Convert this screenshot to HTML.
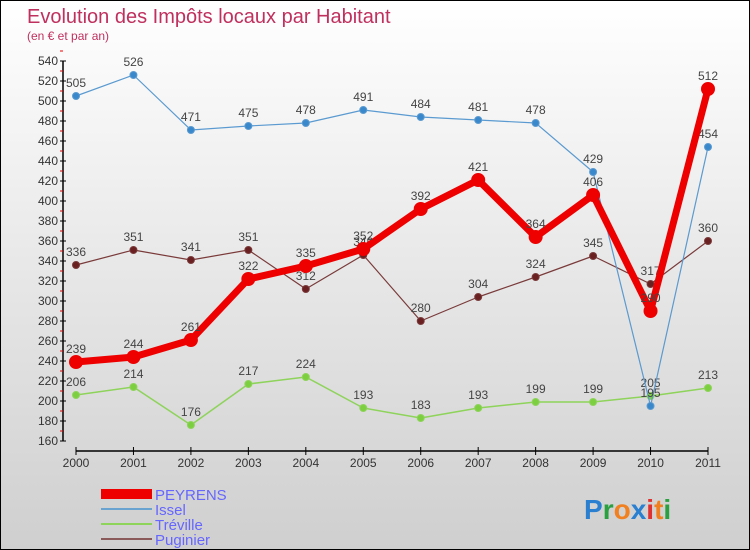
<!DOCTYPE html>
<html><head><meta charset="utf-8"><style>
body{margin:0;}
#c{width:750px;height:550px;position:relative;overflow:hidden;box-sizing:border-box;border:1px solid #000;background:linear-gradient(#ffffff,#cfcfcf);font-family:"Liberation Sans",sans-serif;}
svg text{font-family:"Liberation Sans",sans-serif;}
</style></head><body>
<div id="c">
<svg id="s" width="750" height="550">
<text x="26" y="22" font-size="20" fill="#c0305f">Evolution des Impôts locaux par Habitant</text>
<text x="26" y="39" font-size="12" fill="#c0305f">(en € et par an)</text>
<g id="axes"></g><g id="series"></g>
<g>
<rect x="100" y="488" width="51" height="10" fill="#e00"/>
<text x="154" y="499" font-size="15" fill="#6666ff">PEYRENS</text>
<line x1="100" y1="508" x2="151" y2="508" stroke="#6aa3d0" stroke-width="2"/>
<text x="154" y="514" font-size="15" fill="#6666ff">Issel</text>
<line x1="100" y1="523" x2="151" y2="523" stroke="#8ed35a" stroke-width="2"/>
<text x="154" y="529" font-size="15" fill="#6666ff">Tréville</text>
<line x1="100" y1="538" x2="151" y2="538" stroke="#8a5a5a" stroke-width="2"/>
<text x="154" y="544" font-size="15" fill="#6666ff">Puginier</text>
</g>
<g font-size="28" font-weight="bold">
<text x="583" y="518"><tspan fill="#2a7fd0">P</tspan><tspan fill="#2aa040">r</tspan><tspan fill="#f08020">o</tspan><tspan fill="#2a7fd0">x</tspan><tspan fill="#e03030">i</tspan><tspan fill="#f08020">t</tspan><tspan fill="#2aa040">i</tspan></text>
</g>
</svg></div>
<script>
const years=["2000","2001","2002","2003","2004","2005","2006","2007","2008","2009","2010","2011"];
const peyrens=[239,244,261,322,335,352,392,421,364,406,290,512];
const issel=[505,526,471,475,478,491,484,481,478,429,195,454];
const treville=[206,214,176,217,224,193,183,193,199,199,205,213];
const puginier=[336,351,341,351,312,346,280,304,324,345,317,360];
const yTicks=[160,180,200,220,240,260,280,300,320,340,360,380,400,420,440,460,480,500,520,540];
const NS="http://www.w3.org/2000/svg";
function xs(i){return 75+i*(707-75)/11;}
function ys(v){return 440-(v-160)*380/380;}
function mk(t,a,p){const e=document.createElementNS(NS,t);for(const k in a)e.setAttribute(k,a[k]);p.appendChild(e);return e;}
const ax=document.getElementById('axes');
let l=mk('line',{x1:62,y1:ys(540),x2:62,y2:ys(160),stroke:'#000','stroke-width':1.5},ax);


yTicks.forEach(v=>{
 mk('line',{x1:59,y1:ys(v),x2:65,y2:ys(v),stroke:'#000'},ax);
 mk('line',{x1:59,y1:ys(v+10),x2:62,y2:ys(v+10),stroke:'#e00'},ax);
 const t=mk('text',{x:57,y:ys(v)+4,'font-size':12,'text-anchor':'end',fill:'#333'},ax);t.textContent=v;
 
 
});
l=mk('line',{x1:xs(0),y1:450,x2:xs(11),y2:450,stroke:'#000','stroke-width':1.5},ax);


years.forEach((y,i)=>{
 mk('line',{x1:xs(i),y1:446,x2:xs(i),y2:454,stroke:'#000'},ax);
 const t=mk('text',{x:xs(i),y:466,'font-size':12,'text-anchor':'middle',fill:'#333'},ax);t.textContent=y;
 
 
});
const sg=document.getElementById('series');
function draw(name,data,color,w,r,dot){
 const g=mk('g',{},sg);
 
 
 const pl=mk('polyline',{points:data.map((v,i)=>xs(i)+','+ys(v)).join(' '),fill:'none',stroke:color,'stroke-width':w,'stroke-linejoin':'round'},g);
 
 
 data.forEach((v,i)=>{
  const c=mk('circle',{cx:xs(i),cy:ys(v),r:r,fill:dot,stroke:color,'stroke-width':1},g);
  
  
  const t=mk('text',{x:xs(i),y:ys(v)-9,'font-size':12,'text-anchor':'middle',fill:'#444'},g);t.textContent=v;
  
  
 });
}
draw('puginier',puginier,'#7a3a3a',1.2,3.5,'#6a2020');
draw('treville',treville,'#8ed35a',1.5,3.5,'#7cd040');
draw('issel',issel,'#5a9ad0',1.2,3.5,'#3a88cc');
draw('peyrens',peyrens,'#ee0000',7,6.5,'#ee0000');
</script>
</body></html>
